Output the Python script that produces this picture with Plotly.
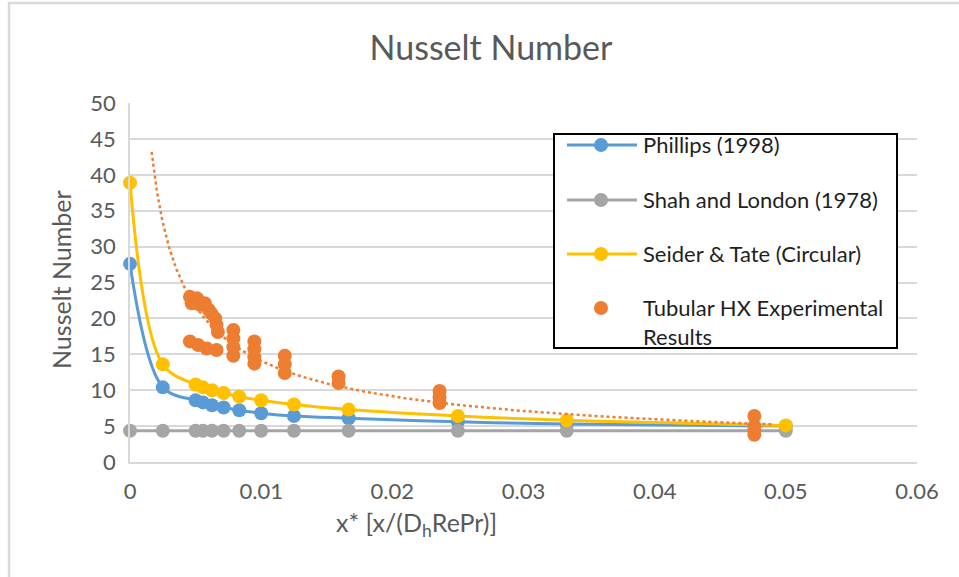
import numpy as np
import plotly.graph_objects as go

# ---- data -------------------------------------------------------------
x_star = [0, 0.0025, 0.005, 0.00556, 0.00625, 0.00714, 0.00833, 0.01,
          0.0125, 0.01667, 0.025, 0.0333, 0.05]
nu_phillips = [27.6, 10.4, 8.6, 8.3, 7.9, 7.6, 7.2, 6.8, 6.4, 6.1, 5.6, 5.3, 5.0]
nu_shah_london = [4.36] * len(x_star)
nu_seider_tate = [38.9, 13.6, 10.8, 10.4, 10.0, 9.6, 9.1, 8.6, 8.0, 7.3, 6.4, 5.8, 5.1]

exp_x = [0.00457, 0.0047, 0.0051, 0.00534, 0.0057, 0.0060, 0.0062, 0.0065, 0.0066, 0.0067,
         0.00457, 0.0052, 0.00585, 0.0066,
         0.00788, 0.00788, 0.00788, 0.00788,
         0.00948, 0.00948, 0.00948, 0.00948,
         0.0118, 0.0118, 0.0118,
         0.0159, 0.0159,
         0.0236, 0.0236, 0.0236,
         0.0476, 0.0476, 0.0476, 0.0476]
exp_nu = [23.0, 22.1, 22.8, 21.9, 22.1, 21.2, 20.7, 20.0, 19.1, 18.1,
          16.8, 16.3, 15.8, 15.6,
          18.4, 17.2, 16.0, 14.8,
          16.8, 15.7, 14.6, 13.7,
          14.8, 13.6, 12.4,
          11.9, 11.0,
          9.9, 9.0, 8.2,
          6.4, 5.0, 4.4, 3.8]

# power-law trendline (least squares in log space), forecast back to x = 0.00165
trend_range = (0.00165, 0.049)
b, ln_a = np.polyfit(np.log(exp_x), np.log(exp_nu), 1)
trend_x = np.geomspace(trend_range[0], trend_range[1], 200)
trend_y = np.exp(ln_a) * trend_x ** b

# ---- styling ----------------------------------------------------------
FONT = "Lato"
TEXT_GREY = "#595959"
GRID = "#D9D9D9"
BLUE, GREY, YELLOW, ORANGE = "#5B9BD5", "#A5A5A5", "#FFC000", "#ED7D31"
MARKER = 14

W, H = 959, 577
PL, PR, PT, PB = 130, 917, 103, 462   # plot area in pixels


def px(xp):
    return (xp - PL) / (PR - PL)


def py(yp):
    return (PB - yp) / (PB - PT)


fig = go.Figure()

fig.add_trace(go.Scatter(x=x_star, y=nu_phillips, name="Phillips (1998)", cliponaxis=False,
                         mode="lines+markers", line=dict(color=BLUE, width=3, shape="spline"),
                         marker=dict(color=BLUE, size=MARKER)))
fig.add_trace(go.Scatter(x=x_star, y=nu_shah_london, name="Shah and London (1978)", cliponaxis=False,
                         mode="lines+markers", line=dict(color=GREY, width=3, shape="spline"),
                         marker=dict(color=GREY, size=MARKER)))
fig.add_trace(go.Scatter(x=x_star, y=nu_seider_tate, name="Seider & Tate (Circular)", cliponaxis=False,
                         mode="lines+markers", line=dict(color=YELLOW, width=3, shape="spline"),
                         marker=dict(color=YELLOW, size=MARKER)))
fig.add_trace(go.Scatter(x=trend_x, y=trend_y, mode="lines", showlegend=False,
                         line=dict(color=ORANGE, width=2.5, dash="dot")))
fig.add_trace(go.Scatter(x=exp_x, y=exp_nu, name="Tubular HX Experimental Results",
                         mode="markers", marker=dict(color=ORANGE, size=MARKER)))

# ---- legend drawn as shapes + text -------------------------------------
shapes = []
annotations = []

# outer chart border
shapes.append(dict(type="rect", xref="paper", yref="paper",
                   x0=px(9), x1=px(975), y0=py(3), y1=py(600),
                   line=dict(color=GRID, width=2.5), fillcolor="rgba(0,0,0,0)", layer="below"))

# legend box
shapes.append(dict(type="rect", xref="paper", yref="paper",
                   x0=px(554), x1=px(897), y0=py(134), y1=py(348),
                   line=dict(color="#000000", width=2), fillcolor="white", layer="above"))

legend_rows = [("Phillips (1998)", BLUE, True, 145),
               ("Shah and London (1978)", GREY, True, 200),
               ("Seider & Tate (Circular)", YELLOW, True, 254),
               ("Tubular HX Experimental<br>Results", ORANGE, False, 308)]
for label, color, has_line, ypix in legend_rows:
    if has_line:
        shapes.append(dict(type="line", xref="paper", yref="paper",
                           x0=px(567), x1=px(637), y0=py(ypix), y1=py(ypix),
                           line=dict(color=color, width=3), layer="above"))
    shapes.append(dict(type="circle", xref="paper", yref="paper",
                       xsizemode="pixel", ysizemode="pixel",
                       xanchor=px(601), yanchor=py(ypix),
                       x0=-7, x1=7, y0=-7, y1=7,
                       line=dict(color=color, width=0), fillcolor=color, layer="above"))
    annotations.append(dict(text=label, xref="paper", yref="paper",
                            x=px(641), y=py(ypix - 16), xanchor="left", yanchor="top",
                            align="left", showarrow=False,
                            font=dict(family=FONT, size=22, color="#1F1F1F")))

# axis titles
annotations.append(dict(text="Nusselt Number", xref="paper", yref="paper",
                        x=px(61), y=py(280), textangle=-90, showarrow=False,
                        xanchor="center", yanchor="middle",
                        font=dict(family=FONT, size=25, color=TEXT_GREY)))
annotations.append(dict(text="x* [x/(D<sub>h</sub>RePr)]", xref="paper", yref="paper",
                        x=px(416), y=py(524), showarrow=False,
                        xanchor="center", yanchor="middle",
                        font=dict(family=FONT, size=25, color=TEXT_GREY)))

fig.update_layout(
    width=W, height=H,
    margin=dict(l=PL, r=W - PR, t=PT, b=H - PB, pad=0),
    paper_bgcolor="white", plot_bgcolor="white",
    showlegend=False,
    title=dict(text="Nusselt Number", x=491 / W, xanchor="center",
               y=1 - 48 / H, yanchor="middle",
               font=dict(family=FONT, size=34, color=TEXT_GREY)),
    shapes=shapes, annotations=annotations,
)
fig.update_xaxes(range=[0, 0.06], dtick=0.01, tick0=0, showgrid=False,
                 showline=True, linecolor=GRID, linewidth=1.5, zeroline=False,
                 ticks="", ticklabelstandoff=9,
                 tickfont=dict(family=FONT, size=22, color=TEXT_GREY))
fig.update_yaxes(range=[0, 50], dtick=5, tick0=0, showgrid=True, gridcolor=GRID,
                 gridwidth=1.5, showline=True, linecolor=GRID, linewidth=1.5,
                 zeroline=False, ticks="", ticklabelstandoff=8,
                 tickfont=dict(family=FONT, size=22, color=TEXT_GREY))

fig.write_html("out.html")
